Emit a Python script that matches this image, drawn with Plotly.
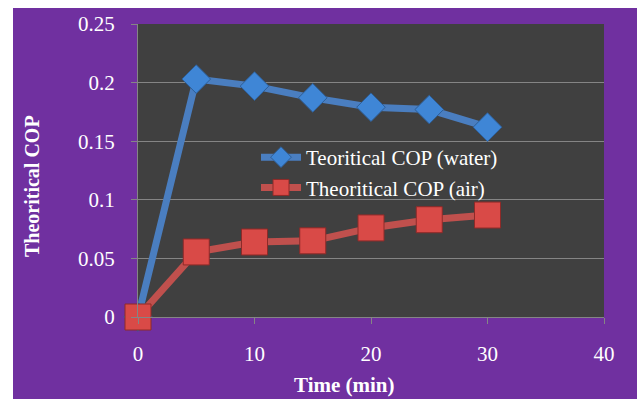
import plotly.graph_objects as go

time_min = [0, 5, 10, 15, 20, 25, 30]
cop_water = [0, 0.203, 0.197, 0.187, 0.179, 0.177, 0.162]
cop_air = [0, 0.0555, 0.064, 0.065, 0.076, 0.083, 0.087]
series_names = ["Teoritical COP (water)", "Theoritical COP (air)"]
x_title = "Time (min)"
y_title = "Theoritical COP"

PURPLE = "#7030A0"
PLOT_BG = "#404040"
GRID = "#858585"
FONT = "Liberation Serif, Times New Roman, serif"

fig = go.Figure()
fig.add_trace(go.Scatter(
    x=time_min, y=cop_water, mode="lines+markers", name=series_names[0],
    line=dict(color="#4A7EC0", width=7), cliponaxis=False,
    marker=dict(symbol="diamond", size=22, color="#3F86D6",
                line=dict(color="#2E5E96", width=1)),
))
fig.add_trace(go.Scatter(
    x=time_min, y=cop_air, mode="lines+markers", name=series_names[1],
    line=dict(color="#C0504D", width=7), cliponaxis=False,
    marker=dict(symbol="square", size=26, color="#D94A47",
                line=dict(color="#8E2A28", width=1)),
))

L, R, T, B = 138, 33, 24, 82
W, H = 637, 399
pw, ph = W - L - R, H - T - B

def px_x(p):
    return (p - L) / pw

def px_y(p):
    return (H - B - p) / ph

fig.update_layout(
    width=W, height=H,
    margin=dict(l=L, r=R, t=T, b=B),
    paper_bgcolor=PURPLE,
    plot_bgcolor=PLOT_BG,
    font=dict(family=FONT, color="white", size=21),
    showlegend=True,
    legend=dict(
        x=px_x(256), y=px_y(137), xanchor="left", yanchor="top",
        bgcolor="rgba(0,0,0,0)", font=dict(size=21, color="white", family=FONT),
        itemwidth=40, tracegroupgap=0,
    ),
    xaxis=dict(
        range=[0, 40], dtick=10, tick0=0, showgrid=False, zeroline=False,
        showline=True, linecolor=GRID, linewidth=1,
        ticks="outside", ticklen=6, tickcolor=GRID, ticklabelstandoff=12,
    ),
    yaxis=dict(
        range=[0, 0.25], dtick=0.05, tick0=0, showgrid=True, gridcolor=GRID, gridwidth=1,
        zeroline=False, showline=True, linecolor=GRID, linewidth=1,
        ticks="outside", ticklen=6, tickcolor=GRID, ticklabelstandoff=12,
        tickformat="~g",
    ),
    annotations=[
        dict(text="<b>" + x_title + "</b>", xref="paper", yref="paper",
             x=px_x(344), y=px_y(385), xanchor="center", yanchor="middle",
             showarrow=False, font=dict(size=21, family=FONT, color="white")),
        dict(text="<b>" + y_title + "</b>", xref="paper", yref="paper",
             x=px_x(32), y=px_y(186), xanchor="center", yanchor="middle", textangle=-90,
             showarrow=False, font=dict(size=20, family=FONT, color="white")),
    ],
    shapes=[
        dict(type="rect", xref="paper", yref="paper", x0=px_x(0), x1=px_x(W), y0=px_y(8), y1=px_y(0),
             fillcolor="white", line=dict(width=0), layer="above"),
        dict(type="rect", xref="paper", yref="paper", x0=px_x(0), x1=px_x(13), y0=px_y(H), y1=px_y(0),
             fillcolor="white", line=dict(width=0), layer="above"),
    ],
)

fig.write_html("out.html")
